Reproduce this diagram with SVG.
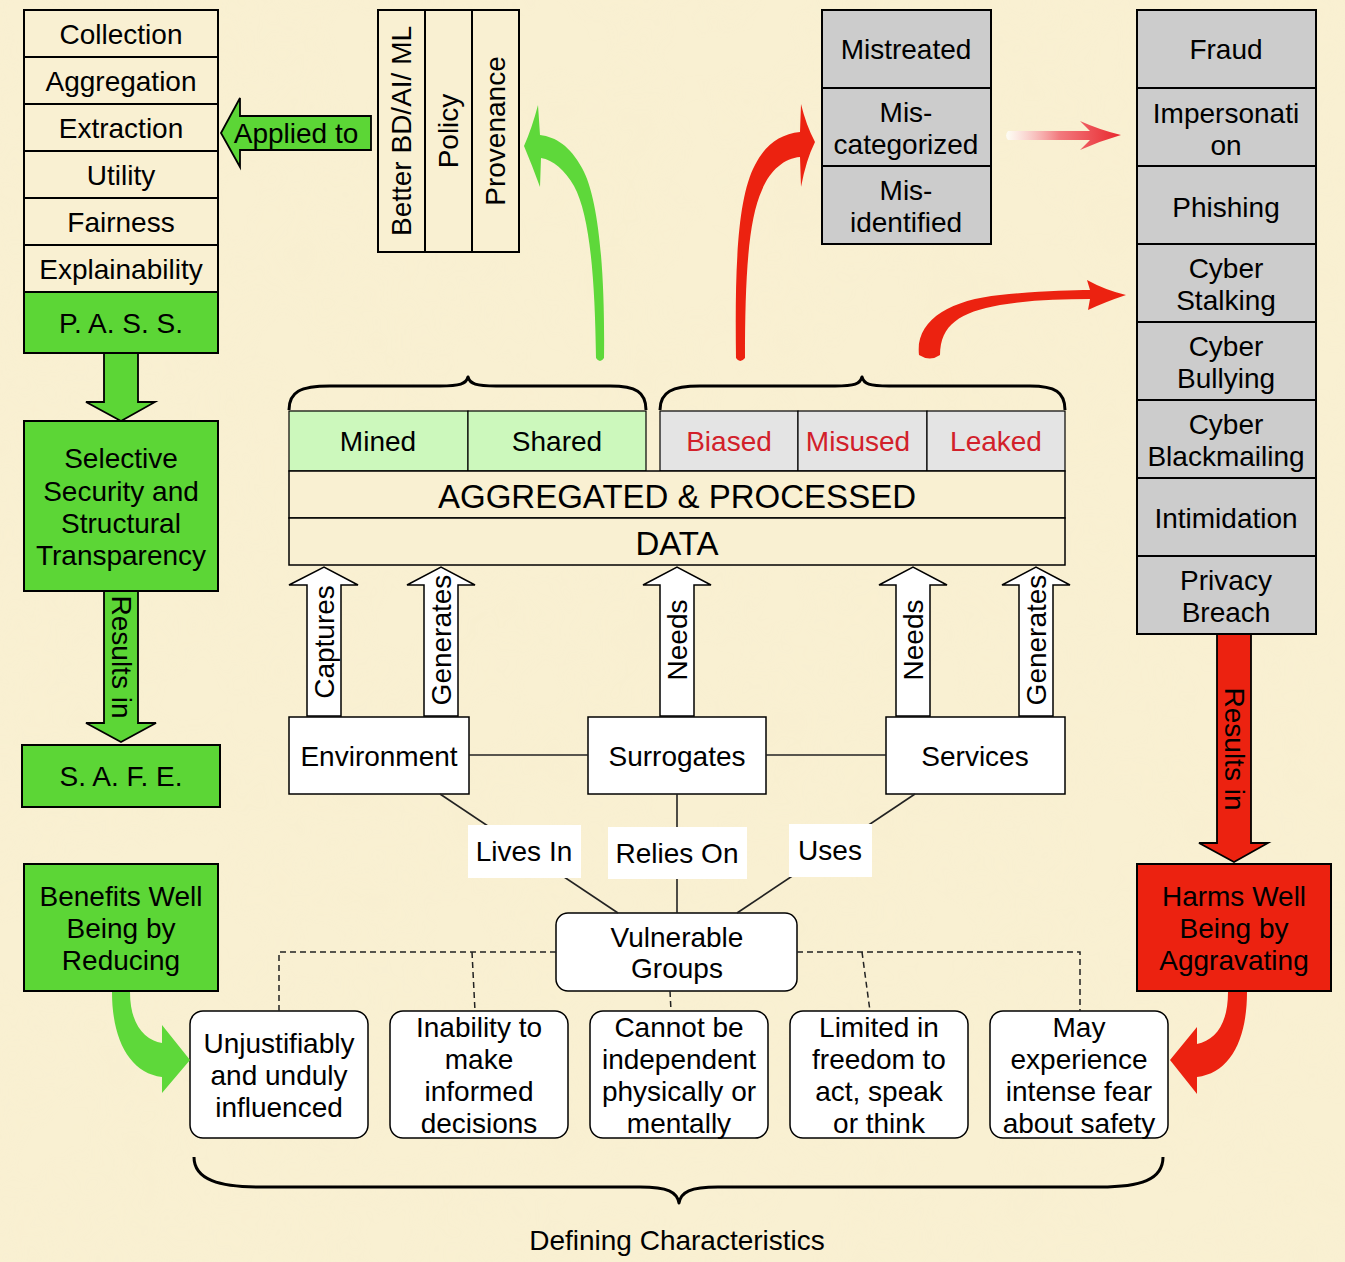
<svg xmlns="http://www.w3.org/2000/svg" width="1345" height="1262" viewBox="0 0 1345 1262">
<defs>
<style>
text{font-family:"Liberation Sans",Arial,Helvetica,sans-serif;font-size:28px;fill:#000;text-anchor:middle;dominant-baseline:central}
.box{stroke:#000;stroke-width:2}
.cream{fill:#f9f0d2}
.green{fill:#5cd636}
.red{fill:#ec2210}
.gray{fill:#cccccc}
.lgray{fill:#e4e4e4}
.lgreen{fill:#ccf8bc}
.white{fill:#fff}
.big{font-size:33px}
.rt{fill:#d2202a}
.line{stroke:#222;stroke-width:1.6;fill:none}
.dash{stroke:#222;stroke-width:1.5;fill:none;stroke-dasharray:6 4}
.brace{stroke:#000;stroke-width:3;fill:none;stroke-linejoin:round}
.blk{stroke:#000;stroke-width:1.8;stroke-linejoin:miter}
</style>
<linearGradient id="fade" gradientUnits="userSpaceOnUse" x1="1008" y1="0" x2="1122" y2="0">
<stop offset="0" stop-color="#ffffff" stop-opacity="0.7"/>
<stop offset="0.45" stop-color="#f27a7e"/>
<stop offset="1" stop-color="#e8262c"/>
</linearGradient>
<filter id="tex" x="0" y="0" width="100%" height="100%">
<feTurbulence type="fractalNoise" baseFrequency="0.012" numOctaves="3" seed="4"/>
<feColorMatrix type="matrix" values="0 0 0 0 0.93  0 0 0 0 0.85  0 0 0 0 0.62  0 0 0 0.9 -0.3"/>
</filter>
</defs>
<rect width="1345" height="1262" fill="#f9f0d2"/>
<rect width="1345" height="1262" filter="url(#tex)" opacity="0.5"/>

<g id="left-column">
<rect class="box cream" x="24" y="10" width="194" height="47"/><text x="121" y="34">Collection</text>
<rect class="box cream" x="24" y="57" width="194" height="47"/><text x="121" y="81">Aggregation</text>
<rect class="box cream" x="24" y="104" width="194" height="47"/><text x="121" y="128">Extraction</text>
<rect class="box cream" x="24" y="151" width="194" height="47"/><text x="121" y="175">Utility</text>
<rect class="box cream" x="24" y="198" width="194" height="47"/><text x="121" y="222">Fairness</text>
<rect class="box cream" x="24" y="245" width="194" height="47"/><text x="121" y="269">Explainability</text>
</g>
<g id="pass"><rect class="box green" x="24" y="292" width="194" height="61"/><text x="121" y="323">P. A. S. S.</text></g>
<g id="selective"><rect class="box green" x="24" y="421" width="194" height="170"/>
<text x="121" y="458">Selective</text><text x="121" y="491">Security and</text><text x="121" y="523">Structural</text><text x="121" y="555">Transparency</text></g>
<g id="safe"><rect class="box green" x="22" y="745" width="198" height="62"/><text x="121" y="776">S. A. F. E.</text></g>
<g id="benefits"><rect class="box green" x="24" y="864" width="194" height="127"/>
<text x="121" y="896">Benefits Well</text><text x="121" y="928">Being by</text><text x="121" y="960">Reducing</text></g>

<g id="top-tools">
<rect class="box cream" x="378" y="10" width="47" height="242"/>
<rect class="box cream" x="425" y="10" width="47" height="242"/>
<rect class="box cream" x="472" y="10" width="47" height="242"/>
<text transform="translate(401,131) rotate(-90)">Better BD/AI/ ML</text>
<text transform="translate(448,131) rotate(-90)">Policy</text>
<text transform="translate(495,131) rotate(-90)">Provenance</text>
</g>

<g id="mistreated">
<rect class="box gray" x="822" y="10" width="169" height="78"/><text x="906" y="49">Mistreated</text>
<rect class="box gray" x="822" y="88" width="169" height="78"/><text x="906" y="112">Mis-</text><text x="906" y="144">categorized</text>
<rect class="box gray" x="822" y="166" width="169" height="78"/><text x="906" y="190">Mis-</text><text x="906" y="222">identified</text>
</g>

<g id="harms-list">
<rect class="box gray" x="1137" y="10" width="179" height="78"/><text x="1226" y="49">Fraud</text>
<rect class="box gray" x="1137" y="88" width="179" height="78"/><text x="1226" y="113">Impersonati</text><text x="1226" y="145">on</text>
<rect class="box gray" x="1137" y="166" width="179" height="78"/><text x="1226" y="207">Phishing</text>
<rect class="box gray" x="1137" y="244" width="179" height="78"/><text x="1226" y="268">Cyber</text><text x="1226" y="300">Stalking</text>
<rect class="box gray" x="1137" y="322" width="179" height="78"/><text x="1226" y="346">Cyber</text><text x="1226" y="378">Bullying</text>
<rect class="box gray" x="1137" y="400" width="179" height="78"/><text x="1226" y="424">Cyber</text><text x="1226" y="456">Blackmailing</text>
<rect class="box gray" x="1137" y="478" width="179" height="78"/><text x="1226" y="518">Intimidation</text>
<rect class="box gray" x="1137" y="556" width="179" height="78"/><text x="1226" y="580">Privacy</text><text x="1226" y="612">Breach</text>
</g>
<g id="harms"><rect class="box red" x="1137" y="864" width="194" height="127"/>
<text x="1234" y="896">Harms Well</text><text x="1234" y="928">Being by</text><text x="1234" y="960">Aggravating</text></g>

<g id="data">
<rect class="box lgreen" x="289" y="411" width="179" height="60" style="stroke-width:1.2"/><text x="378" y="441">Mined</text>
<rect class="box lgreen" x="468" y="411" width="178" height="60" style="stroke-width:1.2"/><text x="557" y="441">Shared</text>
<rect class="box lgray" x="660" y="411" width="138" height="60" style="stroke-width:1.2"/><text class="rt" x="729" y="441">Biased</text>
<rect class="box lgray" x="798" y="411" width="129" height="60" style="stroke-width:1.2"/><text class="rt" x="858" y="441">Misused</text>
<rect class="box lgray" x="927" y="411" width="138" height="60" style="stroke-width:1.2"/><text class="rt" x="996" y="441">Leaked</text>
<rect class="box cream" x="289" y="471" width="776" height="47" style="stroke-width:1.5"/><text class="big" x="677" y="496">AGGREGATED &amp; PROCESSED</text>
<rect class="box cream" x="289" y="518" width="776" height="47" style="stroke-width:1.5"/><text class="big" x="677" y="543">DATA</text>
</g>

<g id="environment"><rect class="box white" x="289" y="717" width="180" height="77" style="stroke-width:1.5"/><text x="379" y="756">Environment</text></g>
<g id="surrogates"><rect class="box white" x="588" y="717" width="178" height="77" style="stroke-width:1.5"/><text x="677" y="756">Surrogates</text></g>
<g id="services"><rect class="box white" x="886" y="717" width="179" height="77" style="stroke-width:1.5"/><text x="975" y="756">Services</text></g>

<g id="vulnerable"><rect class="box white" x="556" y="913" width="241" height="78" rx="12" style="stroke-width:1.5"/><text x="677" y="937">Vulnerable</text><text x="677" y="968">Groups</text></g>

<g id="char1"><rect class="box white" x="190" y="1011" width="178" height="127" rx="13" style="stroke-width:1.5"/>
<text x="279" y="1043">Unjustifiably</text><text x="279" y="1075">and unduly</text><text x="279" y="1107">influenced</text></g>
<g id="char2"><rect class="box white" x="390" y="1011" width="178" height="127" rx="13" style="stroke-width:1.5"/>
<text x="479" y="1027">Inability to</text><text x="479" y="1059">make</text><text x="479" y="1091">informed</text><text x="479" y="1123">decisions</text></g>
<g id="char3"><rect class="box white" x="590" y="1011" width="178" height="127" rx="13" style="stroke-width:1.5"/>
<text x="679" y="1027">Cannot be</text><text x="679" y="1059">independent</text><text x="679" y="1091">physically or</text><text x="679" y="1123">mentally</text></g>
<g id="char4"><rect class="box white" x="790" y="1011" width="178" height="127" rx="13" style="stroke-width:1.5"/>
<text x="879" y="1027">Limited in</text><text x="879" y="1059">freedom to</text><text x="879" y="1091">act, speak</text><text x="879" y="1123">or think</text></g>
<g id="char5"><rect class="box white" x="990" y="1011" width="178" height="127" rx="13" style="stroke-width:1.5"/>
<text x="1079" y="1027">May</text><text x="1079" y="1059">experience</text><text x="1079" y="1091">intense fear</text><text x="1079" y="1123">about safety</text></g>

<g id="connectors">
<polygon class="blk green" points="221,133 240,98 240,116 371,116 371,150 240,150 240,167"/>
<text x="296" y="133">Applied to</text>
<polygon class="blk green" points="104,353 138,353 138,402 155,402 121,421 86,402 104,402"/>
<polygon class="blk green" points="104,591 138,591 138,723 156,723 121,742 86,723 104,723"/>
<text transform="translate(121,657) rotate(90)">Results in</text>
<polygon class="blk red" points="1217,634 1251,634 1251,843 1268,843 1234,862 1199,843 1217,843"/>
<text transform="translate(1234,749) rotate(90)">Results in</text>

<polygon class="blk white" style="stroke-width:1.5" points="307,716 307,585 289,585 324,567 358,585 341,585 341,716"/>
<text transform="translate(324,642) rotate(-90)">Captures</text>
<polygon class="blk white" style="stroke-width:1.5" points="424,716 424,585 407,585 441,567 475,585 458,585 458,716"/>
<text transform="translate(441,640) rotate(-90)">Generates</text>
<polygon class="blk white" style="stroke-width:1.5" points="660,716 660,585 643,585 677,567 711,585 694,585 694,716"/>
<text transform="translate(677,640) rotate(-90)">Needs</text>
<polygon class="blk white" style="stroke-width:1.5" points="896,716 896,585 879,585 913,567 947,585 930,585 930,716"/>
<text transform="translate(913,640) rotate(-90)">Needs</text>
<polygon class="blk white" style="stroke-width:1.5" points="1019,716 1019,585 1002,585 1036,567 1070,585 1053,585 1053,716"/>
<text transform="translate(1036,640) rotate(-90)">Generates</text>

<line class="line" x1="469" y1="755" x2="588" y2="755"/>
<line class="line" x1="766" y1="755" x2="886" y2="755"/>
<line class="line" x1="440" y1="794" x2="618" y2="913"/>
<line class="line" x1="677" y1="794" x2="677" y2="913"/>
<line class="line" x1="915" y1="794" x2="737" y2="913"/>
<rect x="468" y="825" width="113" height="53" fill="#fff"/><text x="524" y="851">Lives In</text>
<rect x="608" y="827" width="139" height="52" fill="#fff"/><text x="677" y="853">Relies On</text>
<rect x="789" y="824" width="83" height="53" fill="#fff"/><text x="830" y="850">Uses</text>

<polyline class="dash" points="556,952 279,952 279,1011"/>
<polyline class="dash" points="797,952 1080,952 1080,1011"/>
<line class="dash" x1="472" y1="952" x2="475" y2="1011"/>
<line class="dash" x1="862" y1="952" x2="870" y2="1011"/>
<line class="dash" x1="670" y1="991" x2="671" y2="1011"/>

<path class="brace" d="M289,410 C289,392 300,386 330,386 L440,386 C460,386 466,384 468,377 C470,384 476,386 496,386 L610,386 C636,386 646,392 646,410"/>
<path class="brace" d="M660,410 C660,392 672,386 700,386 L835,386 C855,386 860,384 862,377 C864,384 869,386 889,386 L1030,386 C1055,386 1065,392 1065,410"/>
<path class="brace" d="M194,1157 C194,1180 220,1187 260,1187 L640,1187 C668,1187 677,1192 679,1203 C681,1192 690,1187 718,1187 L1100,1187 C1140,1187 1163,1180 1163,1157"/>
<text x="677" y="1240">Defining Characteristics</text>

<path fill="#5ed83a" d="M604,358 C605,280 600,200 582,168 C570,146 556,137 540,135 L538,105 Q532,128 524,146 Q532,165 540,187 L541,158 C553,160 565,170 574,186 C590,215 595,280 596,358 Q600,364 604,358 Z"/>
<path fill="#ec2210" d="M736,358 C735,280 736,200 755,165 C765,145 780,134 800,132 L801,104 Q806,125 815,142 Q806,160 801,187 L800,157 C785,158 770,170 762,190 C748,220 745,280 745,358 Q740,364 736,358 Z"/>
<path fill="#ec2210" d="M919,355 C915,320 950,300 1000,295 C1040,291 1070,290 1090,290 L1087,280 Q1105,290 1126,295 Q1105,302 1088,310 L1090,299 C1060,299 1030,300 1000,305 C960,312 940,325 940,355 Q930,362 919,355 Z"/>
<path fill="url(#fade)" d="M1008,131 L1090,131 L1080,121 Q1100,130 1121,135 Q1100,141 1080,150 L1090,140 L1008,140 Q1004,135.5 1008,131 Z"/>
<path fill="#5ed83a" d="M112,992 C112,1040 130,1073 162,1077 L162,1093 L190,1060 L162,1025 L162,1043 C145,1040 130,1025 130,992 Z"/>
<path fill="#ec2210" d="M1247,992 C1247,1040 1230,1073 1197,1077 L1197,1094 L1170,1060 L1197,1027 L1197,1044 C1215,1040 1228,1025 1228,992 Z"/>
</g>
</svg>
